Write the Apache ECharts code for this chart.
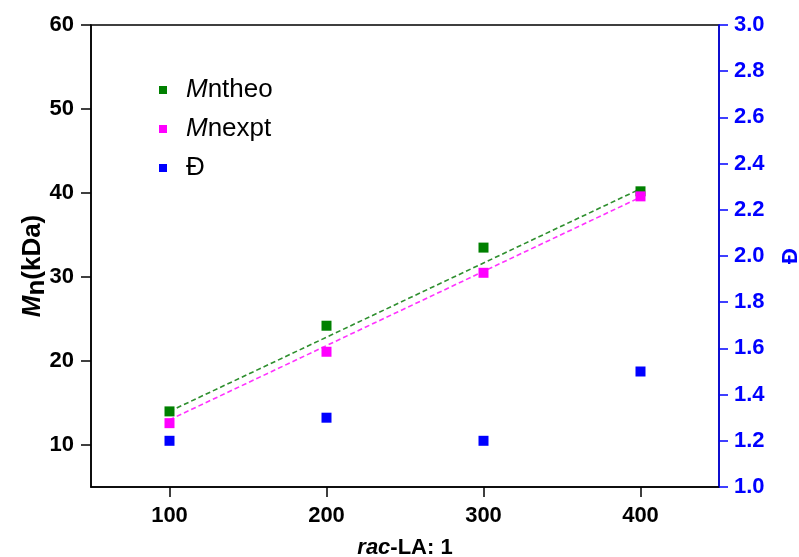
<!DOCTYPE html>
<html>
<head>
<meta charset="utf-8">
<script src="https://cdn.jsdelivr.net/npm/echarts@6/dist/echarts.min.js"></script>
<style>
html,body{margin:0;padding:0;background:#fff;}
#c{width:799px;height:557px;}
</style>
</head>
<body>
<div id="c"></div>
<script>
// ---- data ----
const ratios = [100, 200, 300, 400];
const mnTheo = [14.0, 24.2, 33.5, 40.2];
const mnExpt = [12.6, 21.1, 30.5, 39.6];
const dispersity = [1.20, 1.30, 1.20, 1.50];
// dashed trend lines (end points)
const theoFitX = [100, 400];
const theoFitY = [14.0, 40.5];
const exptFitX = [100, 400];
const exptFitY = [13.0, 39.5];
const xTicks = [100, 200, 300, 400];
const yTicks = [10, 20, 30, 40, 50, 60];

const pairs = (xs, ys) => xs.map((x, i) => [x, ys[i]]);

const FONT = '"Liberation Sans", Arial, sans-serif';
const chart = echarts.init(document.getElementById('c'));
chart.setOption({
  animation: false,
  backgroundColor: '#fff',
  grid: { left: 91, right: 80, top: 25, bottom: 70, outerBoundsMode: 'none', containLabel: false,
    show: true, borderColor: '#000', borderWidth: 1.5, backgroundColor: 'transparent' },
  graphic: [{
    type: 'text', x: 33, y: 266, rotation: Math.PI / 2,
    style: {
      text: '{m|M}{s|n}{r|(kDa)}', align: 'center', verticalAlign: 'middle',
      fontFamily: FONT, fontSize: 26, fontWeight: 'bold', fill: '#000',
      rich: {
        m: { fontFamily: FONT, fontSize: 26, fontWeight: 'bold', fontStyle: 'italic', fill: '#000', color: '#000' },
        s: { fontFamily: FONT, fontSize: 26, fontWeight: 'bold', fill: '#000', color: '#000', padding: [8, 0, 0, 0] },
        r: { fontFamily: FONT, fontSize: 26, fontWeight: 'bold', fill: '#000', color: '#000' }
      }
    }
  }],
  legend: {
    orient: 'vertical', left: 154, top: 72, itemGap: 13,
    icon: 'rect', itemWidth: 8, itemHeight: 8,
    data: ['theo', 'expt', 'D'],
    formatter: n => n === 'theo' ? '{i|M}ntheo' : (n === 'expt' ? '{i|M}nexpt' : 'Đ'),
    textStyle: {
      fontFamily: FONT, fontSize: 26, color: '#000', padding: [0, 0, 0, 14],
      rich: { i: { fontFamily: FONT, fontSize: 26, fontStyle: 'italic', color: '#000' } }
    }
  },
  xAxis: {
    type: 'value', min: 50, max: 450, interval: 50,
    name: '{i|rac}-LA: 1', nameLocation: 'middle', nameGap: 50, nameMoveOverlap: false,
    nameTextStyle: { fontFamily: FONT, fontSize: 22, fontWeight: 'bold', color: '#000',
      rich: { i: { fontFamily: FONT, fontSize: 22, fontWeight: 'bold', fontStyle: 'italic', color: '#000' } } },
    axisLine: { lineStyle: { color: '#000', width: 1.5 } },
    axisTick: { show: true, length: 10, inside: false, lineStyle: { color: '#000', width: 1.5 }, customValues: xTicks },
    axisLabel: { fontFamily: FONT, fontSize: 22, fontWeight: 'bold', color: '#000', margin: 18, customValues: xTicks },
    splitLine: { show: false }
  },
  yAxis: [
    {
      type: 'value', min: 5, max: 60, interval: 5, position: 'left',
      axisLine: { show: true, lineStyle: { color: '#000', width: 1.5 } },
      axisTick: { show: true, length: 10, lineStyle: { color: '#000', width: 1.5 }, customValues: yTicks },
      axisLabel: { fontFamily: FONT, fontSize: 22, fontWeight: 'bold', color: '#000', margin: 17, customValues: yTicks },
      splitLine: { show: false }
    },
    {
      type: 'value', min: 1.0, max: 3.0, interval: 0.2, position: 'right',
      name: 'Đ', nameLocation: 'middle', nameGap: 61, nameRotate: 90, nameMoveOverlap: false,
      nameTextStyle: { fontFamily: FONT, fontSize: 22, fontWeight: 'bold', color: '#0000ff' },
      axisLine: { show: true, lineStyle: { color: '#0000ff', width: 1.5 } },
      axisTick: { show: true, length: 9, lineStyle: { color: '#0000ff', width: 1.5 } },
      axisLabel: { fontFamily: FONT, fontSize: 22, fontWeight: 'bold', color: '#0000ff', margin: 15, formatter: v => v.toFixed(1) },
      splitLine: { show: false }
    }
  ],
  series: [
    { name: 'theoFit', type: 'line', data: pairs(theoFitX, theoFitY), showSymbol: false, symbol: 'none',
      lineStyle: { color: '#2f8f2f', width: 1.6, type: [5, 3] }, z: 2, silent: true },
    { name: 'exptFit', type: 'line', data: pairs(exptFitX, exptFitY), showSymbol: false, symbol: 'none',
      lineStyle: { color: '#ff33ff', width: 1.6, type: [5, 3] }, z: 2, silent: true },
    { name: 'theo', type: 'scatter', data: pairs(ratios, mnTheo), symbol: 'rect', symbolSize: 10,
      itemStyle: { color: '#008000', opacity: 1 }, z: 3 },
    { name: 'expt', type: 'scatter', data: pairs(ratios, mnExpt), symbol: 'rect', symbolSize: 10,
      itemStyle: { color: '#ff00ff', opacity: 1 }, z: 4 },
    { name: 'D', type: 'scatter', yAxisIndex: 1, data: pairs(ratios, dispersity), symbol: 'rect', symbolSize: 10,
      itemStyle: { color: '#0000ff', opacity: 1 }, z: 3 }
  ]
});
</script>
</body>
</html>
